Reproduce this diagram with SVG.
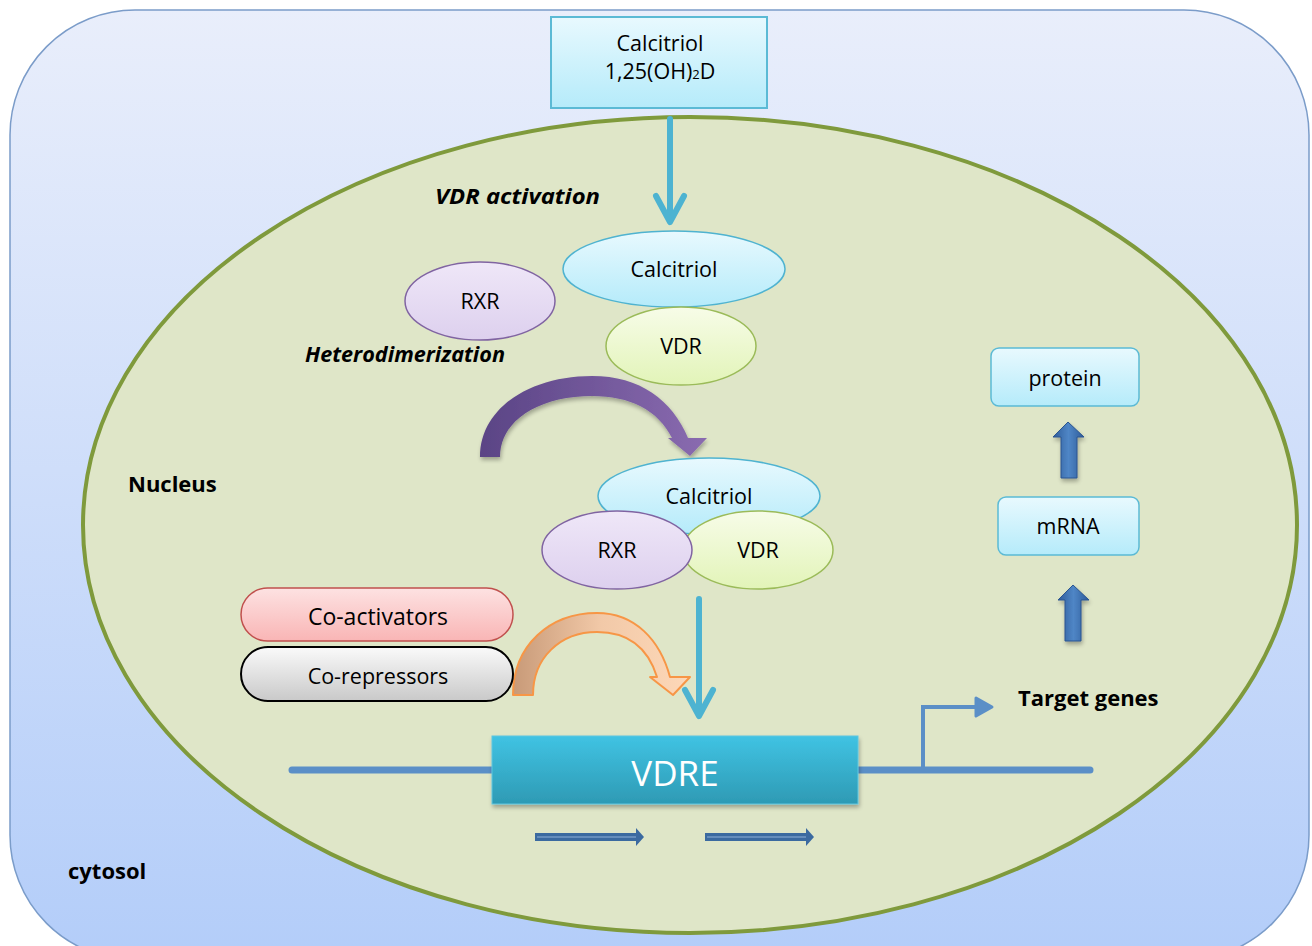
<svg xmlns="http://www.w3.org/2000/svg" width="1312" height="946" viewBox="0 0 1312 946">
<defs>
  <linearGradient id="gCell" x1="0" y1="0" x2="0" y2="1">
    <stop offset="0" stop-color="#e9eefb"/>
    <stop offset="1" stop-color="#b3cdf9"/>
  </linearGradient>
  <linearGradient id="gCyan" x1="0" y1="0" x2="0" y2="1">
    <stop offset="0" stop-color="#e8f9fe"/>
    <stop offset="1" stop-color="#b5ebfa"/>
  </linearGradient>
  <linearGradient id="gGreen" x1="0" y1="0" x2="0" y2="1">
    <stop offset="0" stop-color="#f7fce8"/>
    <stop offset="1" stop-color="#e2f4b8"/>
  </linearGradient>
  <linearGradient id="gPurple" x1="0" y1="0" x2="0" y2="1">
    <stop offset="0" stop-color="#efe7f8"/>
    <stop offset="1" stop-color="#ddd0ee"/>
  </linearGradient>
  <linearGradient id="gPink" x1="0" y1="0" x2="0" y2="1">
    <stop offset="0" stop-color="#fde2e2"/>
    <stop offset="1" stop-color="#f9b5b5"/>
  </linearGradient>
  <linearGradient id="gGrey" x1="0" y1="0" x2="0" y2="1">
    <stop offset="0" stop-color="#fafafa"/>
    <stop offset="1" stop-color="#c9c9c9"/>
  </linearGradient>
  <linearGradient id="gVdre" x1="0" y1="0" x2="0" y2="1">
    <stop offset="0" stop-color="#40c3e3"/>
    <stop offset="1" stop-color="#2e9ab4"/>
  </linearGradient>
  <linearGradient id="gArcP" x1="0" y1="0" x2="1" y2="0">
    <stop offset="0" stop-color="#5a4485"/>
    <stop offset="1" stop-color="#8a6bb0"/>
  </linearGradient>
  <linearGradient id="gArcO" x1="0" y1="0" x2="1" y2="0">
    <stop offset="0" stop-color="#c89a78"/>
    <stop offset="0.5" stop-color="#f2c9a8"/>
    <stop offset="1" stop-color="#fdd8b8"/>
  </linearGradient>
  <linearGradient id="gBlock" x1="0" y1="0" x2="1" y2="0">
    <stop offset="0" stop-color="#2e5c9a"/>
    <stop offset="0.5" stop-color="#4f86c6"/>
    <stop offset="1" stop-color="#2e5c9a"/>
  </linearGradient>
  <filter id="sh" x="-10%" y="-10%" width="130%" height="140%">
    <feGaussianBlur in="SourceAlpha" stdDeviation="2"/>
    <feOffset dx="1" dy="3" result="o"/>
    <feComponentTransfer><feFuncA type="linear" slope="0.3"/></feComponentTransfer>
    <feMerge><feMergeNode/><feMergeNode in="SourceGraphic"/></feMerge>
  </filter>
</defs>
<style>
  text { font-family: "Open Sans", "Liberation Sans", sans-serif; fill: #000; text-anchor: middle; }
  .lbl { font-size: 21.5px; }
  .bi { font-weight: bold; font-style: italic; font-size: 22px; text-anchor: start; }
  .b { font-weight: bold; font-size: 22px; text-anchor: start; }
  .cyanline { fill: none; stroke: #4db3d1; stroke-width: 6; stroke-linecap: round; stroke-linejoin: round; }
  .dna { fill: none; stroke: #5b8fc7; stroke-width: 7; stroke-linecap: round; }
</style>

<g id="cytosol">
  <rect x="10" y="10" width="1299" height="950" rx="125" ry="125" fill="url(#gCell)" stroke="#7b9cc9" stroke-width="1.5"/>
  <text class="b" x="68" y="879">cytosol</text>
</g>

<g id="nucleus">
  <ellipse cx="690" cy="525" rx="607" ry="408" fill="#dfe6c8" stroke="#7f9a3c" stroke-width="4"/>
  <text class="b" x="128" y="492">Nucleus</text>
</g>

<g id="calcitriol-box">
  <rect x="551" y="17" width="216" height="91" fill="url(#gCyan)" stroke="#5bbad5" stroke-width="2"/>
  <text class="lbl" x="660" y="51">Calcitriol</text>
  <text class="lbl" x="660" y="79">1,25(OH)<tspan font-size="13">2</tspan>D</text>
</g>

<g id="labels">
  <text class="bi" x="435" y="204" font-size="22.5" textLength="165" lengthAdjust="spacingAndGlyphs">VDR activation</text>
  <text class="bi" x="305" y="362" font-size="21.5" textLength="200" lengthAdjust="spacingAndGlyphs">Heterodimerization</text>
</g>

<g id="connectors">
  <path class="cyanline" d="M670,119 V220"/>
  <path class="cyanline" d="M656,196 L670,222 L684,196"/>
  <path class="cyanline" d="M699,599 V714"/>
  <path class="cyanline" d="M685,690 L699,716 L713,690"/>
  <!-- purple heterodimerization arc -->
  <path d="M480,457 C480,408 530,376 592,376 C640,376 672,400 688,438 L707,438 L690,456 L668,438 L672,438 C658,410 630,396 592,396 C540,396 500,420 500,457 Z" fill="url(#gArcP)" filter="url(#sh)"/>
  <!-- orange co-regulator arc -->
  <path d="M513,695 C513,645 550,613 597,613 C635,613 660,640 670,677 L690,677 L673,695 L650,677 L657,677 C648,648 628,632 597,632 C560,632 533,658 533,695 Z" fill="url(#gArcO)" stroke="#f79646" stroke-width="2" stroke-linejoin="round"/>
  <!-- DNA -->
  <path class="dna" d="M292,770 H1090"/>
  <path d="M923,770 V707 H982" fill="none" stroke="#5b8fc7" stroke-width="4"/>
  <path d="M976,698 L992,707 L976,716 Z" fill="#5b8fc7" stroke="#5b8fc7" stroke-width="3" stroke-linejoin="round"/>
  <!-- small direction arrows -->
  <path d="M535,833 H636 V828 L644,837 L636,846 V841 H535 Z" fill="#3b6aa0"/>
  <path d="M537,837 H636" stroke="#8fb0d8" stroke-width="1"/>
  <path d="M705,833 H806 V828 L814,837 L806,846 V841 H705 Z" fill="#3b6aa0"/>
  <path d="M707,837 H806" stroke="#8fb0d8" stroke-width="1"/>
  <!-- block arrows -->
  <path d="M1061,478 V437 H1053 L1068,422 L1084,437 H1077 V478 Z" fill="url(#gBlock)" stroke="#2a5490" stroke-width="1" filter="url(#sh)"/>
  <path d="M1065,641 V600 H1058 L1073,585 L1089,600 H1081 V641 Z" fill="url(#gBlock)" stroke="#2a5490" stroke-width="1" filter="url(#sh)"/>
</g>

<g id="calcitriol-1">
  <ellipse cx="674" cy="269" rx="111" ry="38" fill="url(#gCyan)" stroke="#4fb3d0" stroke-width="1.5"/>
  <text class="lbl" x="674" y="277">Calcitriol</text>
</g>
<g id="vdr-1">
  <ellipse cx="681" cy="346" rx="75" ry="39" fill="url(#gGreen)" stroke="#9bbb59" stroke-width="1.5"/>
  <text class="lbl" x="681" y="354">VDR</text>
</g>
<g id="rxr-1">
  <ellipse cx="480" cy="301" rx="75" ry="39" fill="url(#gPurple)" stroke="#8064a2" stroke-width="1.5"/>
  <text class="lbl" x="480" y="309">RXR</text>
</g>

<g id="calcitriol-2">
  <ellipse cx="709" cy="496" rx="111" ry="38" fill="url(#gCyan)" stroke="#4fb3d0" stroke-width="1.5"/>
  <text class="lbl" x="709" y="504">Calcitriol</text>
</g>
<g id="vdr-2">
  <ellipse cx="758" cy="550" rx="75" ry="39" fill="url(#gGreen)" stroke="#9bbb59" stroke-width="1.5"/>
  <text class="lbl" x="758" y="558">VDR</text>
</g>
<g id="rxr-2">
  <ellipse cx="617" cy="550" rx="75" ry="39" fill="url(#gPurple)" stroke="#8064a2" stroke-width="1.5"/>
  <text class="lbl" x="617" y="558">RXR</text>
</g>

<g id="coactivators">
  <rect x="241" y="588" width="272" height="53" rx="26.5" fill="url(#gPink)" stroke="#c0504d" stroke-width="1.5"/>
  <text x="378" y="625" font-size="23">Co-activators</text>
</g>
<g id="corepressors">
  <rect x="241" y="647" width="272" height="54" rx="27" fill="url(#gGrey)" stroke="#000" stroke-width="2"/>
  <text x="378" y="684" font-size="21.5">Co-repressors</text>
</g>

<g id="vdre">
  <rect x="492" y="736" width="366" height="68" fill="url(#gVdre)" stroke="#5fc6e0" stroke-width="1" filter="url(#sh)"/>
  <text x="675" y="786" font-size="35" style="fill:#fff">VDRE</text>
</g>

<g id="target-genes">
  <text class="b" x="1018" y="706" font-size="22.5">Target genes</text>
</g>

<g id="mrna">
  <rect x="998" y="497" width="141" height="58" rx="8" fill="url(#gCyan)" stroke="#5bbad5" stroke-width="1.5"/>
  <text class="lbl" x="1068" y="534">mRNA</text>
</g>
<g id="protein">
  <rect x="991" y="348" width="148" height="58" rx="8" fill="url(#gCyan)" stroke="#5bbad5" stroke-width="1.5"/>
  <text class="lbl" x="1065" y="386">protein</text>
</g>
</svg>
